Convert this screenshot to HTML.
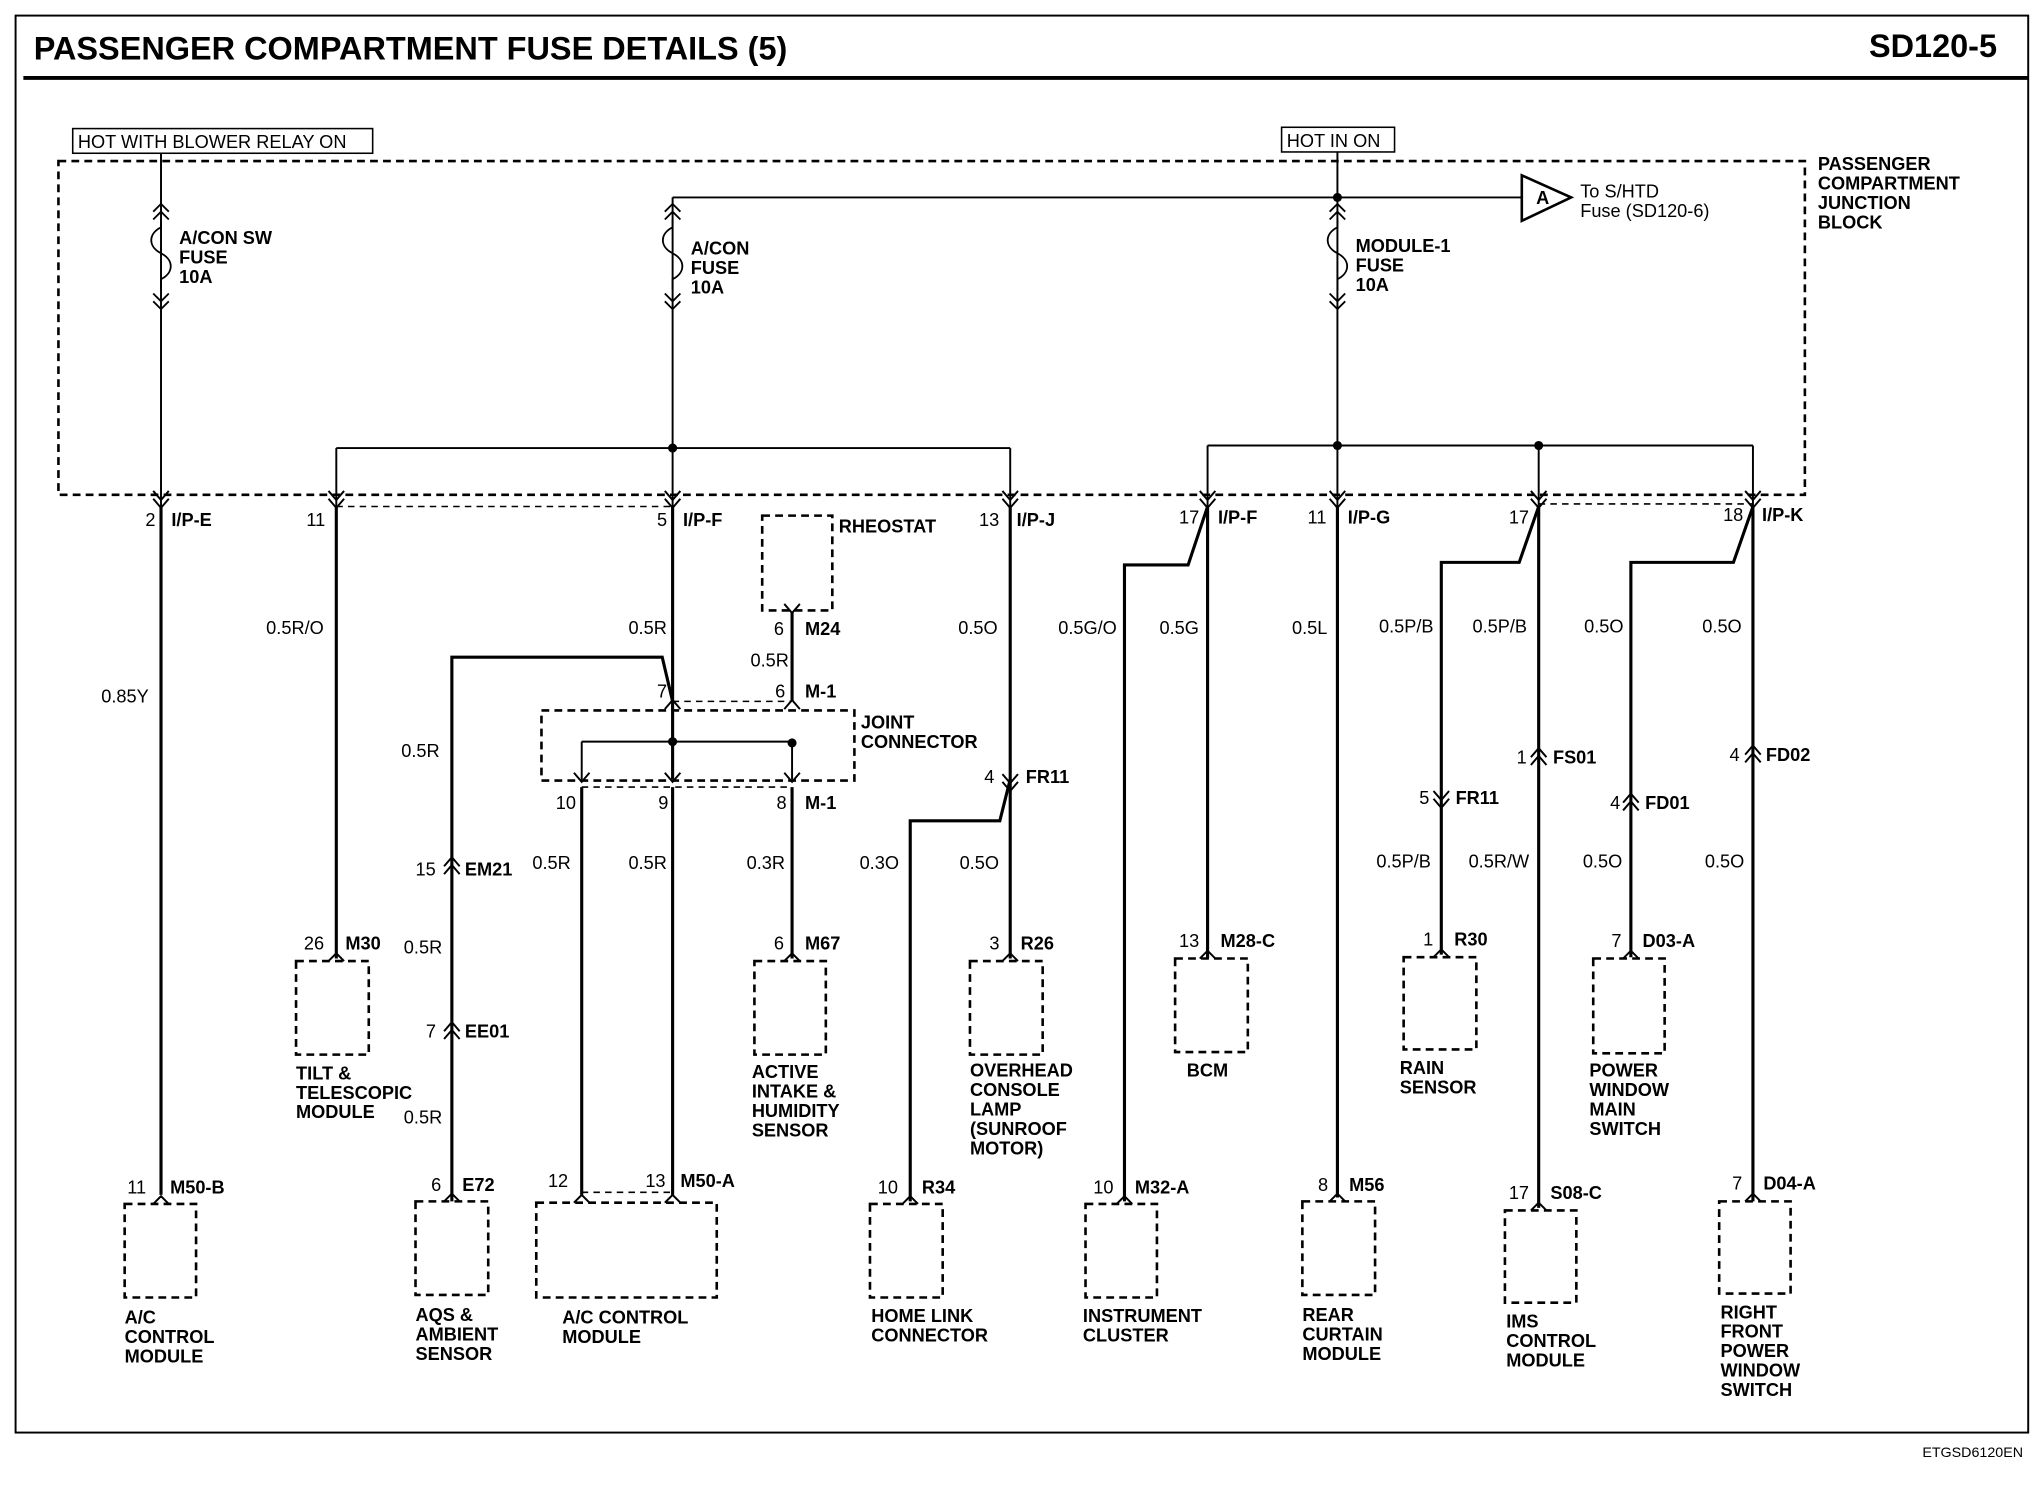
<!DOCTYPE html>
<html><head><meta charset="utf-8"><style>
html,body{margin:0;padding:0;background:#fff}
svg{display:block}
text{font-family:"Liberation Sans",sans-serif;font-size:14px;fill:#000}
.b{font-weight:bold}
.t{font-size:25px;font-weight:bold}
</style></head><body>
<svg width="2036" height="1504" viewBox="0 0 1568 1158" preserveAspectRatio="none" xmlns="http://www.w3.org/2000/svg">
<g fill="none" stroke="#000">
<rect x="12" y="12" width="1550" height="1091" stroke-width="1.5"/>
<line x1="18" y1="60" x2="1562" y2="60" stroke-width="3"/>
<rect x="45" y="124" width="1345" height="257" stroke-width="2" stroke-dasharray="6,4"/>
<rect x="56" y="99" width="231" height="19" stroke-width="1.2"/>
<rect x="987" y="98" width="87" height="19" stroke-width="1.2"/>
<!-- dashed component boxes -->
<g stroke-width="2" stroke-dasharray="6,4">
<rect x="587" y="397" width="54" height="73"/>
<rect x="417" y="547" width="241" height="54"/>
<rect x="228" y="740" width="56" height="72"/>
<rect x="581" y="740" width="55" height="72"/>
<rect x="747" y="740" width="56" height="72"/>
<rect x="905" y="738" width="56" height="72"/>
<rect x="1081" y="737" width="56" height="71"/>
<rect x="1227" y="738" width="55" height="73"/>
<rect x="96" y="927" width="55" height="72"/>
<rect x="320" y="925" width="56" height="72"/>
<rect x="413" y="926" width="139" height="73"/>
<rect x="670" y="927" width="56" height="72"/>
<rect x="836" y="927" width="55" height="72"/>
<rect x="1003" y="925" width="56" height="72"/>
<rect x="1159" y="932" width="55" height="71"/>
<rect x="1324" y="925" width="55" height="71"/>
</g>
<g stroke-width="1.2" stroke-dasharray="5,4">
<line x1="259" y1="390" x2="518" y2="390"/>
<line x1="1185" y1="388" x2="1350" y2="388"/>
<line x1="518" y1="540" x2="610" y2="540"/>
<line x1="448" y1="606" x2="610" y2="606"/>
<line x1="448" y1="918" x2="518" y2="918"/>
</g>
<!-- thin wires inside block -->
<g stroke-width="1.5">
<line x1="124" y1="118" x2="124" y2="390"/>
<line x1="518" y1="152" x2="518" y2="390"/>
<line x1="518" y1="152" x2="1172" y2="152"/>
<line x1="1030" y1="117" x2="1030" y2="390"/>
<line x1="259" y1="345" x2="778" y2="345"/>
<line x1="259" y1="345" x2="259" y2="390"/>
<line x1="778" y1="345" x2="778" y2="390"/>
<line x1="930" y1="343" x2="1350" y2="343"/>
<line x1="930" y1="343" x2="930" y2="390"/>
<line x1="1185" y1="343" x2="1185" y2="390"/>
<line x1="1350" y1="343" x2="1350" y2="390"/>
<polygon points="1172,135 1172,170 1210,152" stroke-width="2"/>
<line x1="448" y1="571" x2="610" y2="571"/>
<line x1="448" y1="571" x2="448" y2="600"/>
<line x1="610" y1="572" x2="610" y2="600"/>
</g>
<!-- thick wires -->
<g stroke-width="2.4">
<line x1="124" y1="390" x2="124" y2="920"/>
<line x1="259" y1="390" x2="259" y2="738"/>
<line x1="518" y1="390" x2="518" y2="540"/>
<polyline points="518,540 510,506 348,506 348,925"/>
<line x1="610" y1="471" x2="610" y2="540"/>
<line x1="518" y1="540" x2="518" y2="600"/>
<line x1="448" y1="606" x2="448" y2="920"/>
<line x1="518" y1="606" x2="518" y2="920"/>
<line x1="610" y1="606" x2="610" y2="738"/>
<line x1="778" y1="390" x2="778" y2="738"/>
<polyline points="778,600 770,632 701,632 701,925"/>
<polyline points="930,390 915,435 866,435 866,925"/>
<line x1="930" y1="390" x2="930" y2="738"/>
<line x1="1030" y1="390" x2="1030" y2="922"/>
<polyline points="1185,390 1170,433 1110,433 1110,735"/>
<line x1="1185" y1="390" x2="1185" y2="930"/>
<polyline points="1350,390 1335,433 1256,433 1256,737"/>
<line x1="1350" y1="390" x2="1350" y2="925"/>
</g>
<!-- fuses -->
<g stroke-width="1.4">
<path d="M118,163 l6,-6 l6,6 M118,169 l6,-6 l6,6 M124,169 v6 c-10,5 -10,15 0,20 c10,5 10,15 0,20 v8 M118,226 l6,6 l6,-6 M118,232 l6,6 l6,-6"/>
<path d="M512,163 l6,-6 l6,6 M512,169 l6,-6 l6,6 M518,169 v6 c-10,5 -10,15 0,20 c10,5 10,15 0,20 v8 M512,226 l6,6 l6,-6 M512,232 l6,6 l6,-6"/>
<path d="M1024,163 l6,-6 l6,6 M1024,169 l6,-6 l6,6 M1030,169 v6 c-10,5 -10,15 0,20 c10,5 10,15 0,20 v8 M1024,226 l6,6 l6,-6 M1024,232 l6,6 l6,-6"/>
</g>
<!-- down chevrons at block edge -->
<g stroke-width="1.5">
<path d="M118,378 l6,7 l6,-7 M118,384 l6,7 l6,-7"/>
<path d="M253,378 l6,7 l6,-7 M253,384 l6,7 l6,-7"/>
<path d="M512,378 l6,7 l6,-7 M512,384 l6,7 l6,-7"/>
<path d="M772,378 l6,7 l6,-7 M772,384 l6,7 l6,-7"/>
<path d="M924,378 l6,7 l6,-7 M924,384 l6,7 l6,-7"/>
<path d="M1024,378 l6,7 l6,-7 M1024,384 l6,7 l6,-7"/>
<path d="M1179,378 l6,7 l6,-7 M1179,384 l6,7 l6,-7"/>
<path d="M1344,378 l6,7 l6,-7 M1344,384 l6,7 l6,-7"/>
<!-- connector chevrons -->
<path d="M604,465 l6,7 l6,-7"/>
<path d="M512,546 l6,-7 l6,7 M604,546 l6,-7 l6,7"/>
<path d="M442,595 l6,7 l6,-7 M512,595 l6,7 l6,-7 M604,595 l6,7 l6,-7"/>
<path d="M772,596 l6,7 l6,-7 M772,602 l6,7 l6,-7"/>
<path d="M342,667 l6,-7 l6,7 M342,673 l6,-7 l6,7"/>
<path d="M342,794 l6,-7 l6,7 M342,800 l6,-7 l6,7"/>
<path d="M1179,583 l6,-7 l6,7 M1179,589 l6,-7 l6,7"/>
<path d="M1344,581 l6,-7 l6,7 M1344,587 l6,-7 l6,7"/>
<path d="M1250,618 l6,-7 l6,7 M1250,624 l6,-7 l6,7"/>
<path d="M1104,609 l6,7 l6,-7 M1104,615 l6,7 l6,-7"/>
<path d="M253,740 l6,-6 l6,6 M604,740 l6,-6 l6,6 M772,740 l6,-6 l6,6 M924,738 l6,-6 l6,6 M1104,737 l6,-6 l6,6 M1250,738 l6,-6 l6,6"/>
<path d="M118,927 l6,-6 l6,6 M342,925 l6,-6 l6,6 M442,926 l6,-6 l6,6 M512,926 l6,-6 l6,6 M695,927 l6,-6 l6,6 M860,927 l6,-6 l6,6 M1024,925 l6,-6 l6,6 M1179,932 l6,-6 l6,6 M1344,925 l6,-6 l6,6"/>
</g>
</g>
<g fill="#000">
<circle cx="518" cy="345" r="3.5"/><circle cx="1030" cy="152" r="3.5"/><circle cx="1030" cy="343" r="3.5"/><circle cx="1185" cy="343" r="3.5"/>
<circle cx="518" cy="571" r="3.5"/><circle cx="610" cy="572" r="3.5"/>
</g>
<text class="t" x="26" y="46">PASSENGER COMPARTMENT FUSE DETAILS (5)</text>
<text class="t" x="1538" y="44" text-anchor="end">SD120-5</text>
<text x="1558" y="1122" text-anchor="end" style="font-size:11px">ETGSD6120EN</text>
<text x="60" y="114">HOT WITH BLOWER RELAY ON</text>
<text x="991" y="113">HOT IN ON</text>
<text class="b" x="1400" y="131">PASSENGER</text><text class="b" x="1400" y="146">COMPARTMENT</text><text class="b" x="1400" y="161">JUNCTION</text><text class="b" x="1400" y="176">BLOCK</text>
<text class="b" x="1183" y="157">A</text>
<text x="1217" y="152">To S/HTD</text><text x="1217" y="167">Fuse (SD120-6)</text>
<text class="b" x="138" y="188">A/CON SW</text><text class="b" x="138" y="203">FUSE</text><text class="b" x="138" y="218">10A</text>
<text class="b" x="532" y="196">A/CON</text><text class="b" x="532" y="211">FUSE</text><text class="b" x="532" y="226">10A</text>
<text class="b" x="1044" y="194">MODULE-1</text><text class="b" x="1044" y="209">FUSE</text><text class="b" x="1044" y="224">10A</text>
<!-- wire labels -->
<text x="78" y="541">0.85Y</text><text x="205" y="488">0.5R/O</text><text x="484" y="488">0.5R</text><text x="578" y="513">0.5R</text>
<text x="738" y="488">0.5O</text><text x="815" y="488">0.5G/O</text><text x="893" y="488">0.5G</text><text x="995" y="488">0.5L</text>
<text x="1062" y="487">0.5P/B</text><text x="1134" y="487">0.5P/B</text><text x="1220" y="487">0.5O</text><text x="1311" y="487">0.5O</text>
<text x="309" y="583">0.5R</text><text x="410" y="669">0.5R</text><text x="484" y="669">0.5R</text><text x="575" y="669">0.3R</text>
<text x="662" y="669">0.3O</text><text x="739" y="669">0.5O</text><text x="311" y="734">0.5R</text><text x="311" y="865">0.5R</text>
<text x="1060" y="668">0.5P/B</text><text x="1131" y="668">0.5R/W</text><text x="1219" y="668">0.5O</text><text x="1313" y="668">0.5O</text>
<!-- pins -->
<text x="112" y="405">2</text><text class="b" x="132" y="405">I/P-E</text>
<text x="236" y="405">11</text>
<text x="506" y="405">5</text><text class="b" x="526" y="405">I/P-F</text>
<text x="754" y="405">13</text><text class="b" x="783" y="405">I/P-J</text>
<text x="908" y="403">17</text><text class="b" x="938" y="403">I/P-F</text>
<text x="1007" y="403">11</text><text class="b" x="1038" y="403">I/P-G</text>
<text x="1162" y="403">17</text>
<text x="1327" y="401">18</text><text class="b" x="1357" y="401">I/P-K</text>
<text class="b" x="646" y="410">RHEOSTAT</text>
<text x="596" y="489">6</text><text class="b" x="620" y="489">M24</text>
<text x="506" y="537">7</text><text x="597" y="537">6</text><text class="b" x="620" y="537">M-1</text>
<text class="b" x="663" y="561">JOINT</text><text class="b" x="663" y="576">CONNECTOR</text>
<text x="428" y="623">10</text><text x="507" y="623">9</text><text x="598" y="623">8</text><text class="b" x="620" y="623">M-1</text>
<text x="758" y="603">4</text><text class="b" x="790" y="603">FR11</text>
<text x="320" y="674">15</text><text class="b" x="358" y="674">EM21</text>
<text x="328" y="799">7</text><text class="b" x="358" y="799">EE01</text>
<text x="1168" y="588">1</text><text class="b" x="1196" y="588">FS01</text>
<text x="1332" y="586">4</text><text class="b" x="1360" y="586">FD02</text>
<text x="1093" y="619">5</text><text class="b" x="1121" y="619">FR11</text>
<text x="1240" y="623">4</text><text class="b" x="1267" y="623">FD01</text>
<text x="234" y="731">26</text><text class="b" x="266" y="731">M30</text>
<text x="596" y="731">6</text><text class="b" x="620" y="731">M67</text>
<text x="762" y="731">3</text><text class="b" x="786" y="731">R26</text>
<text x="908" y="729">13</text><text class="b" x="940" y="729">M28-C</text>
<text x="1096" y="728">1</text><text class="b" x="1120" y="728">R30</text>
<text x="1241" y="729">7</text><text class="b" x="1265" y="729">D03-A</text>
<text x="98" y="919">11</text><text class="b" x="131" y="919">M50-B</text>
<text x="332" y="917">6</text><text class="b" x="356" y="917">E72</text>
<text x="422" y="914">12</text><text x="497" y="914">13</text><text class="b" x="524" y="914">M50-A</text>
<text x="676" y="919">10</text><text class="b" x="710" y="919">R34</text>
<text x="842" y="919">10</text><text class="b" x="874" y="919">M32-A</text>
<text x="1015" y="917">8</text><text class="b" x="1039" y="917">M56</text>
<text x="1162" y="923">17</text><text class="b" x="1194" y="923">S08-C</text>
<text x="1334" y="916">7</text><text class="b" x="1358" y="916">D04-A</text>
<!-- component names -->
<g class="b">
<text class="b" x="228" y="831">TILT &amp;</text><text class="b" x="228" y="846">TELESCOPIC</text><text class="b" x="228" y="861">MODULE</text>
<text class="b" x="579" y="830">ACTIVE</text><text class="b" x="579" y="845">INTAKE &amp;</text><text class="b" x="579" y="860">HUMIDITY</text><text class="b" x="579" y="875">SENSOR</text>
<text class="b" x="747" y="829">OVERHEAD</text><text class="b" x="747" y="844">CONSOLE</text><text class="b" x="747" y="859">LAMP</text><text x="747" y="874">(SUNROOF</text><text x="747" y="889">MOTOR)</text>
<text class="b" x="914" y="829">BCM</text>
<text class="b" x="1078" y="827">RAIN</text><text class="b" x="1078" y="842">SENSOR</text>
<text class="b" x="1224" y="829">POWER</text><text class="b" x="1224" y="844">WINDOW</text><text class="b" x="1224" y="859">MAIN</text><text class="b" x="1224" y="874">SWITCH</text>
<text class="b" x="96" y="1019">A/C</text><text class="b" x="96" y="1034">CONTROL</text><text class="b" x="96" y="1049">MODULE</text>
<text class="b" x="320" y="1017">AQS &amp;</text><text class="b" x="320" y="1032">AMBIENT</text><text class="b" x="320" y="1047">SENSOR</text>
<text class="b" x="433" y="1019">A/C CONTROL</text><text class="b" x="433" y="1034">MODULE</text>
<text class="b" x="671" y="1018">HOME LINK</text><text class="b" x="671" y="1033">CONNECTOR</text>
<text class="b" x="834" y="1018">INSTRUMENT</text><text class="b" x="834" y="1033">CLUSTER</text>
<text class="b" x="1003" y="1017">REAR</text><text class="b" x="1003" y="1032">CURTAIN</text><text class="b" x="1003" y="1047">MODULE</text>
<text class="b" x="1160" y="1022">IMS</text><text class="b" x="1160" y="1037">CONTROL</text><text class="b" x="1160" y="1052">MODULE</text>
<text class="b" x="1325" y="1015">RIGHT</text><text class="b" x="1325" y="1030">FRONT</text><text class="b" x="1325" y="1045">POWER</text><text class="b" x="1325" y="1060">WINDOW</text><text class="b" x="1325" y="1075">SWITCH</text>
</g>
</svg>
</body></html>
